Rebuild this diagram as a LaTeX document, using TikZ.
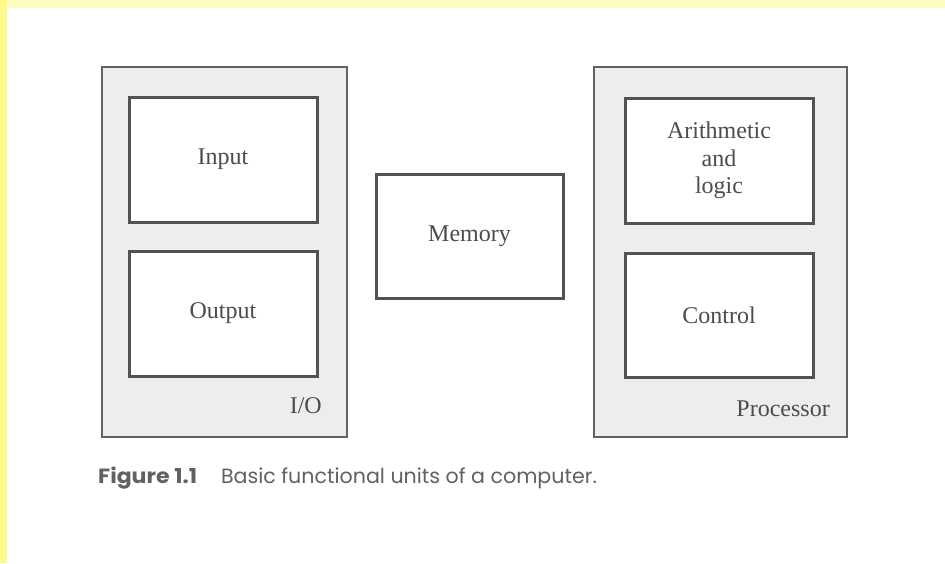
\documentclass[tikz,border=0pt]{standalone}
\usepackage{fontspec}
\setmainfont{Liberation Serif}
\setsansfont{Poppins}
\begin{document}
\begin{tikzpicture}[x=1pt,y=-1pt,
  txt/.style={text=black!70, font=\fontsize{24}{27.5}\selectfont},
  group/.style={draw=black!62, line width=1.3pt, fill=black!7, inner sep=0pt},
  unit/.style={draw=black!68, line width=3pt, fill=white, inner sep=0pt, align=center, txt},
  captxt/.style={text=black!62, inner sep=0pt, font=\sffamily\fontsize{20.6}{24}\selectfont}]
\fill[white] (0,0) rectangle (945,563);
\useasboundingbox (0,0) rectangle (945,563);
\fill[yellow!25] (0,0) rectangle (945,8);
\fill[yellow!45] (0,0) rectangle (7,563);
% groups
\node[group, minimum width=245pt, minimum height=370pt] (io) at (224.5,252) {};
\node[group, minimum width=253pt, minimum height=370pt] (proc) at (720.5,252) {};
% units
\node[unit, minimum width=188pt, minimum height=125pt] (input) at (223,159.5) {Input};
\node[unit, minimum width=188pt, minimum height=125pt] (output) at (223,313.5) {Output};
\node[unit, minimum width=187pt, minimum height=124pt] (memory) at (469.5,236) {Memory};
\node[unit, minimum width=188pt, minimum height=125pt] (alu) at (719,160.5) {Arithmetic\\and\\logic};
\node[unit, minimum width=188pt, minimum height=124pt] (control) at (719,315) {Control};
% group labels
\node[txt, anchor=base east, inner sep=0pt] (iolab) at (322,413) {I/O};
\node[txt, anchor=base east, inner sep=0pt] (proclab) at (830,416) {Processor};
% caption
\node[captxt, anchor=base west] (caption) at (98,483) {\scalebox{1.07}[1]{\bfseries Figure 1.1}\hspace{24pt}Basic functional units of a computer.};
\end{tikzpicture}
\end{document}
